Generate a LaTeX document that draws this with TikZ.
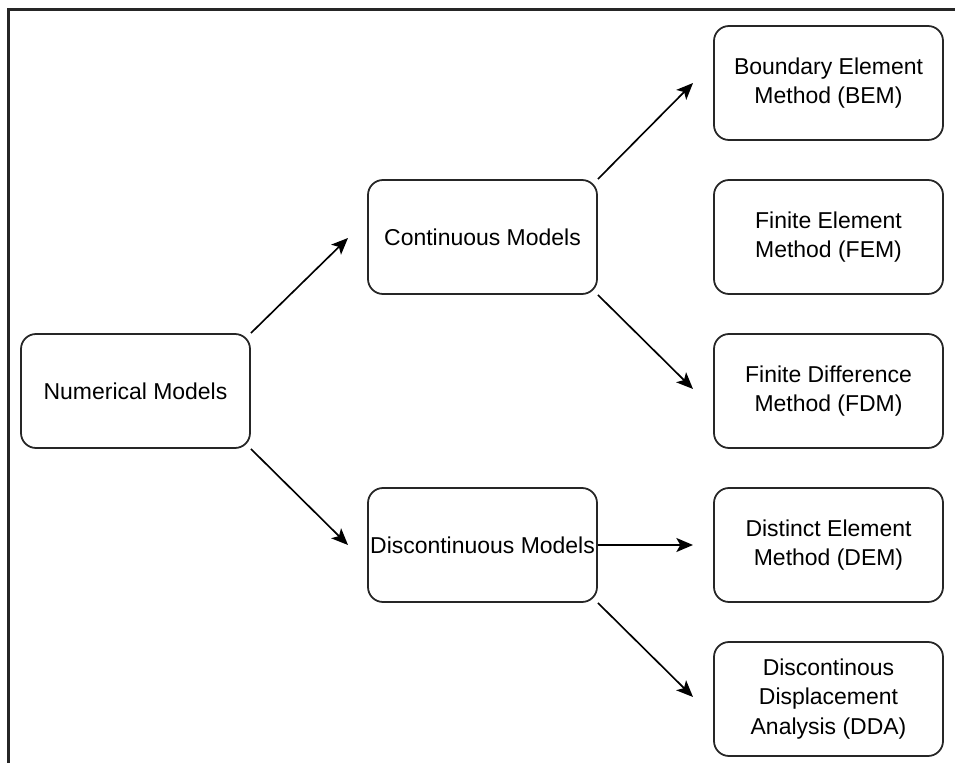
\documentclass[tikz,border=0pt]{standalone}
\usepackage{fontspec}
\setmainfont{Liberation Sans}
\usetikzlibrary{arrows.meta}
\begin{document}
\begin{tikzpicture}[x=0.03cm,y=-0.03cm,
  box/.style={draw=black!85, line width=1.5pt, rounded corners=0.45cm,
    minimum width=6.87cm, minimum height=3.42cm, align=center, inner sep=0pt,
    font=\fontsize{19.6pt}{25pt}\selectfont, text=black},
  conn/.style={line width=1.4pt, -{Stealth[length=0.5cm,width=0.42cm,inset=0.12cm]}}]
\useasboundingbox (0,0) rectangle (955,763);
\fill[white] (0,0) rectangle (955,763);
\draw[line width=2.2pt, black!85] (8.5,780) -- (8.5,9.5) -- (980,9.5);
\node[box] (num) at (135.5,391) {Numerical Models};
\node[box] (cont) at (482.5,237) {Continuous Models};
\node[box] (disc) at (482.5,545) {Discontinuous Models};
\node[box] (bem) at (828.5,83) {Boundary Element\\Method (BEM)};
\node[box] (fem) at (828.5,237) {Finite Element\\Method (FEM)};
\node[box] (fdm) at (828.5,391) {Finite Difference\\Method (FDM)};
\node[box] (dem) at (828.5,545) {Distinct Element\\Method (DEM)};
\node[box] (dda) at (828.5,699) {Discontinous\\Displacement\\Analysis (DDA)};
\coordinate (t1) at (348,238);
\coordinate (t2) at (348,545);
\coordinate (t3) at (693,83);
\coordinate (t4) at (693,389);
\coordinate (t5) at (693,545);
\coordinate (t6) at (693,697);
\draw[conn] (num.north east) -- (t1);
\draw[conn] (num.south east) -- (t2);
\draw[conn] (cont.north east) -- (t3);
\draw[conn] (cont.south east) -- (t4);
\draw[conn] (disc.east) -- (t5);
\draw[conn] (disc.south east) -- (t6);
\end{tikzpicture}
\end{document}
